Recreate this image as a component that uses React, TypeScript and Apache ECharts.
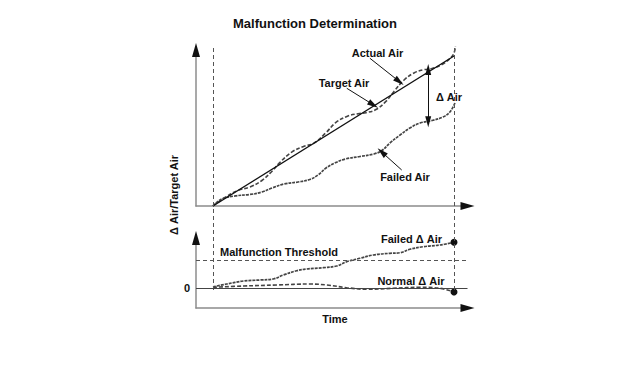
import React, { useEffect, useRef } from "react";
import * as echarts from "echarts";

// ---- data (time units 0..10) ----
const timeMarks = [0, 10];
const targetAir = [
  [0, 0],
  [10, 10],
];
const actualAir = [
  [0, 0], [0.5, 0.57], [1.04, 1.04], [1.54, 1.27], [2.03, 1.7], [2.45, 2.32],
  [2.78, 2.91], [3.28, 3.61], [3.78, 3.98], [4.19, 4.19], [4.69, 4.89], [5.1, 5.57],
  [5.6, 6.0], [6.02, 6.15], [6.35, 6.22], [6.76, 6.43], [7.18, 6.98], [7.51, 7.64],
  [7.93, 8.4], [8.34, 8.87], [8.76, 9.09], [9.09, 9.16], [9.5, 9.43], [9.83, 9.83],
  [10, 10.2], [10.06, 10.66],
];
const failedAir = [
  [0, 0], [0.37, 0.47], [0.91, 0.67], [1.54, 0.77], [2.03, 0.93], [2.45, 1.2],
  [2.95, 1.47], [3.53, 1.6], [4.02, 1.77], [4.36, 2.07], [4.69, 2.53], [5.06, 2.87],
  [5.48, 3.13], [6.1, 3.3], [6.68, 3.47], [7.01, 3.7], [7.34, 4.2], [7.76, 4.73],
  [8.17, 5.2], [8.59, 5.53], [9.09, 5.7], [9.54, 5.93], [9.83, 6.27], [10.04, 6.87],
];
const failedDelta = [
  [0, 0.12], [0.57, 0.4], [1.26, 0.7], [1.95, 0.8], [2.5, 0.9], [2.92, 1.3],
  [3.47, 1.73], [3.89, 1.9], [4.58, 2.03], [5.13, 2.2], [5.55, 2.63], [6.1, 2.97],
  [6.65, 3.3], [7.34, 3.47], [7.76, 3.53], [8.17, 3.87], [8.73, 4.13], [9.42, 4.3],
  [10, 4.57],
];
const normalDelta = [
  [0, 0.07], [1.26, 0.2], [2.64, 0.3], [4.02, 0.4], [4.72, 0.3], [5.55, 0.03],
  [6.38, -0.13], [7.48, -0.03], [8.59, 0.07], [9.42, -0.03], [10, -0.4],
];
const threshold = 2.8;
const zeroLevel = 0;

// annotation arrows (from -> to), top plot data units
const actualArrow = [[6.51, 9.85], [7.73, 8.3]];
const targetArrow = [[5.55, 7.85], [6.65, 6.75]];
const failedArrow = [[7.83, 2.4], [7.0, 3.6]];
const deltaArrow = [[8.93, 9.1], [8.93, 5.62]];

const X_MIN = -0.705;
const X_MAX = 10.56;

export default function App() {
  const ref = useRef<HTMLDivElement>(null);

  useEffect(() => {
    document.body.style.margin = "0";
    const chart = echarts.init(ref.current!, null, { renderer: "svg" });
    const FF = '"Liberation Sans", Arial, sans-serif';
    const font = `bold 11px ${FF}`;
    const ink = "#111";
    const axisGray = { color: "#8c8c8c", width: 1.5 };
    const arrowOnly = { color: "#111", width: 0 };

    const xAx = (gridIndex: number, lineStyle: any, withArrow: boolean) => ({
      type: "value",
      gridIndex,
      min: X_MIN,
      max: X_MAX,
      position: "bottom",
      axisLine: {
        show: true,
        onZero: false,
        symbol: withArrow ? ["none", "triangle"] : ["none", "none"],
        symbolSize: [8, 14],
        lineStyle,
      },
      axisTick: { show: false },
      axisLabel: { show: false },
      splitLine: { show: false },
    });
    const yAx = (gridIndex: number, min: number, max: number, lineStyle: any, withArrow: boolean, labels = false) => ({
      type: "value",
      gridIndex,
      min,
      max,
      interval: 1,
      position: "left",
      axisLine: {
        show: true,
        onZero: false,
        symbol: withArrow ? ["none", "triangle"] : ["none", "none"],
        symbolSize: [8, 14],
        lineStyle,
      },
      axisTick: { show: false },
      axisLabel: labels
        ? {
            show: true,
            margin: 6,
            color: ink,
            fontSize: 11,
            fontWeight: "bold",
            fontFamily: FF,
            formatter: (v: number) => (v === zeroLevel ? "0" : ""),
          }
        : { show: false },
      splitLine: { show: false },
    });

    const arrowItem = (pair: number[][], both = false) => [
      { coord: pair[0], symbol: both ? "triangle" : "none", symbolSize: [6, 11] },
      { coord: pair[1], symbol: "triangle", symbolSize: [6, 11] },
    ];

    const textEl = (text: string, x: number, y: number, align = "center", rotation = 0) => ({
      type: "text",
      x,
      y,
      rotation,
      silent: true,
      style: { text, font, fill: ink, align, verticalAlign: "middle" },
    });

    chart.setOption({
      animation: false,
      backgroundColor: "#fff",
      title: {
        text: "Malfunction Determination",
        left: 233,
        top: 17,
        padding: 0,
        textStyle: { fontSize: 13, fontWeight: "bold", color: ink, fontFamily: FF },
      },
      grid: [
        { left: 196, top: 50, width: 271.5, height: 156 },
        { left: 196, top: 238, width: 271.5, height: 70 },
        { left: 196, top: 45, width: 271.5, height: 245 },
      ],
      xAxis: [
        xAx(0, axisGray, false),
        xAx(1, axisGray, false),
        { type: "value", gridIndex: 2, min: X_MIN, max: X_MAX, show: false },
        xAx(0, arrowOnly, true),
        xAx(1, arrowOnly, true),
      ],
      yAxis: [
        yAx(0, 0, 10.4, axisGray, false),
        yAx(1, -2, 5, axisGray, false, true),
        { type: "value", gridIndex: 2, min: 0, max: 1, show: false },
        yAx(0, 0, 10.4, arrowOnly, true),
        yAx(1, -2, 5, arrowOnly, true),
      ],
      graphic: [
        textEl("Actual Air", 377.5, 53),
        textEl("Target Air", 344, 83),
        textEl("Δ Air", 449, 97),
        textEl("Failed Air", 405, 177),
        textEl("Failed Δ Air", 411.5, 239),
        textEl("Malfunction Threshold", 220, 252, "left"),
        textEl("Normal Δ Air", 411, 281),
        textEl("Time", 335, 319),
        textEl("Δ Air/Target Air", 174, 195, "center", Math.PI / 2),
      ],
      series: [
        {
          name: "Time marks",
          type: "line",
          xAxisIndex: 2,
          yAxisIndex: 2,
          data: [],
          symbol: "none",
          silent: true,
          markLine: {
            silent: true,
            symbol: ["none", "none"],
            label: { show: false },
            lineStyle: { type: [4, 3], color: "#555", width: 1 },
            data: timeMarks.map((t) => ({ xAxis: t })),
          },
        },
        {
          name: "Target Air",
          type: "line",
          xAxisIndex: 0,
          yAxisIndex: 0,
          data: targetAir,
          symbol: "none",
          z: 4,
          lineStyle: { color: ink, width: 1.4 },
          itemStyle: { color: ink },
          markLine: {
            silent: true,
            label: { show: false },
            lineStyle: { type: "solid", color: ink, width: 1 },
            data: [
              arrowItem(actualArrow),
              arrowItem(targetArrow),
              arrowItem(failedArrow),
              arrowItem(deltaArrow, true),
            ],
          },
        },
        {
          name: "Actual Air",
          type: "line",
          xAxisIndex: 0,
          yAxisIndex: 0,
          data: actualAir,
          symbol: "none",
          smooth: 0.4,
          clip: false,
          lineStyle: { color: "#444", width: 1.6, type: [4, 2] },
        },
        {
          name: "Failed Air",
          type: "line",
          xAxisIndex: 0,
          yAxisIndex: 0,
          data: failedAir,
          symbol: "none",
          smooth: 0.4,
          clip: false,
          lineStyle: { color: "#444", width: 1.7, type: [3, 1] },
        },
        {
          name: "Failed Δ Air",
          type: "line",
          xAxisIndex: 1,
          yAxisIndex: 1,
          data: failedDelta.map((p, i) =>
            i === failedDelta.length - 1
              ? { value: p, symbol: "circle", symbolSize: 7 }
              : { value: p, symbol: "none" }
          ),
          showSymbol: true,
          smooth: 0.4,
          clip: false,
          itemStyle: { color: ink },
          lineStyle: { color: "#444", width: 1.7, type: [3, 1] },
          markLine: {
            silent: true,
            symbol: ["none", "none"],
            label: { show: false },
            data: [
              { yAxis: zeroLevel, lineStyle: { type: "solid", color: "#444", width: 1.2 } },
              { yAxis: threshold, lineStyle: { type: [4, 3], color: "#555", width: 1 } },
            ],
          },
        },
        {
          name: "Normal Δ Air",
          type: "line",
          xAxisIndex: 1,
          yAxisIndex: 1,
          data: normalDelta.map((p, i) =>
            i === normalDelta.length - 1
              ? { value: p, symbol: "circle", symbolSize: 7 }
              : { value: p, symbol: "none" }
          ),
          showSymbol: true,
          smooth: 0.4,
          clip: false,
          itemStyle: { color: ink },
          lineStyle: { color: "#444", width: 1.6, type: [4, 2] },
        },
      ],
    });

    return () => chart.dispose();
  }, []);

  return <div ref={ref} style={{ width: 642, height: 368 }} />;
}
